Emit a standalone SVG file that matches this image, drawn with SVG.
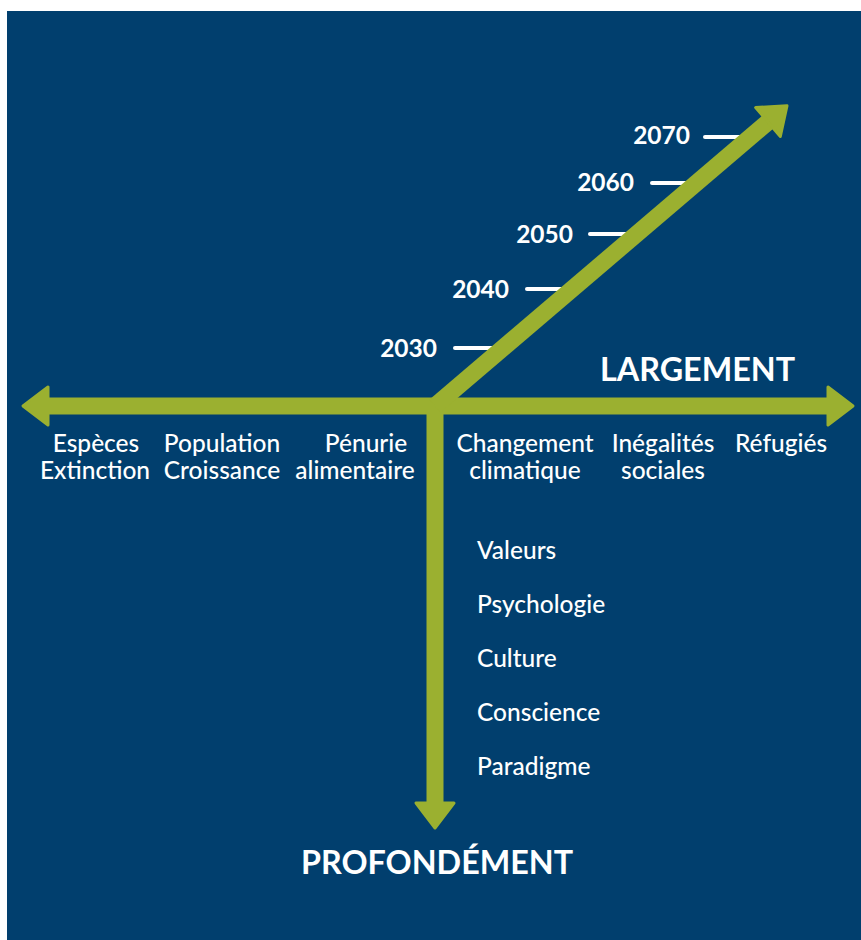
<svg xmlns="http://www.w3.org/2000/svg" width="861" height="940" viewBox="0 0 861 940">
<style>
.bar{stroke:#9bb030;stroke-width:17;fill:none}
.tick{stroke:#ffffff;stroke-width:4;stroke-linecap:round}
.yr{font-family:Lato,"Open Sans",sans-serif;font-weight:700;font-size:24.5px;fill:#ffffff;text-anchor:end}
.lbl{font-family:Lato,"Open Sans",sans-serif;font-weight:500;font-size:24.5px;fill:#ffffff;text-anchor:middle}
.vl{font-family:Lato,"Open Sans",sans-serif;font-weight:500;font-size:24.5px;fill:#ffffff}
.big{font-family:Lato,"Open Sans",sans-serif;font-weight:700;font-size:32.3px;fill:#ffffff}
</style>
<defs>
<marker id="head" markerUnits="userSpaceOnUse" viewBox="-2 -23 30 46" refX="0" refY="0" markerWidth="30" markerHeight="46" orient="auto-start-reverse">
<path d="M0,-19 L25,0 L0,19 Z" fill="#9bb030" stroke="#9bb030" stroke-width="3" stroke-linejoin="round"/>
</marker>
</defs>
<rect x="0" y="0" width="861" height="940" fill="#ffffff"/>
<rect x="7" y="11" width="854" height="929" fill="#013f6e"/>
<g id="ticks">
<line class="tick" x1="705" y1="137" x2="745" y2="137"/>
<line class="tick" x1="652" y1="183" x2="695" y2="183"/>
<line class="tick" x1="590" y1="234" x2="635" y2="234"/>
<line class="tick" x1="527" y1="289" x2="570" y2="289"/>
<line class="tick" x1="455" y1="348" x2="500" y2="348"/>
</g>
<g id="connectors">
<line class="bar" x1="48" y1="406" x2="828" y2="406" marker-start="url(#head)" marker-end="url(#head)"/>
<line class="bar" x1="435" y1="400" x2="435" y2="803" marker-end="url(#head)"/>
<line class="bar" x1="435" y1="406" x2="768" y2="122" marker-end="url(#head)"/>
</g>
<g id="years">
<text class="yr" x="690" y="144">2070</text>
<text class="yr" x="634" y="191">2060</text>
<text class="yr" x="573" y="243">2050</text>
<text class="yr" x="509" y="298">2040</text>
<text class="yr" x="437" y="357">2030</text>
</g>
<g id="largement"><text class="big" x="600" y="381">LARGEMENT</text></g>
<g id="profondement"><text class="big" x="301" y="874">PROFONDÉMENT</text></g>
<g id="especes"><text class="lbl" x="96" y="452">Espèces</text><text class="lbl" x="95" y="479">Extinction</text></g>
<g id="population"><text class="lbl" x="222" y="452">Population</text><text class="lbl" x="222" y="479">Croissance</text></g>
<g id="penurie"><text class="lbl" x="366" y="452">Pénurie</text><text class="lbl" x="355" y="479">alimentaire</text></g>
<g id="changement"><text class="lbl" x="525" y="452">Changement</text><text class="lbl" x="525" y="479">climatique</text></g>
<g id="inegalites"><text class="lbl" x="663" y="452">Inégalités</text><text class="lbl" x="663" y="479">sociales</text></g>
<g id="refugies"><text class="lbl" x="781" y="452">Réfugiés</text></g>
<g id="valeurs"><text class="vl" x="477" y="559">Valeurs</text></g>
<g id="psychologie"><text class="vl" x="477" y="613">Psychologie</text></g>
<g id="culture"><text class="vl" x="477" y="667">Culture</text></g>
<g id="conscience"><text class="vl" x="477" y="721">Conscience</text></g>
<g id="paradigme"><text class="vl" x="477" y="775">Paradigme</text></g>
</svg>
